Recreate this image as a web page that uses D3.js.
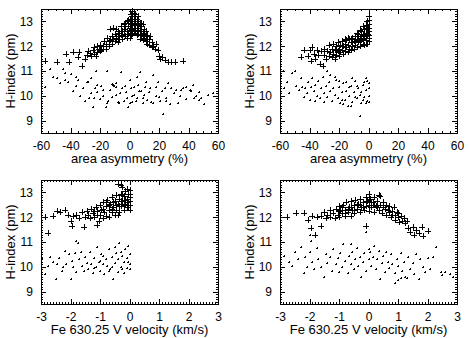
<!doctype html>
<meta charset=utf8>
<title>H-index vs asymmetry and velocity</title>
<style>
  body { margin: 0; background: white; }
  svg { display: block; font-family: "Liberation Sans", Helvetica, Arial, sans-serif; }
</style>
<svg width=471 height=338></svg>
<script src=https://d3js.org/d3.v7.min.js></script>
<script>
var hDomain = [8.5, 13.5];
var hTicks = [9, 10, 11, 12, 13];
var asymTicks = [-60, -40, -20, 0, 20, 40, 60];
var velTicks = [-3, -2, -1, 0, 1, 2, 3];

// panel 1: area asymmetry, "+" branch (upper) and dot branch (lower)
var asymUp1 = [[-57,11.4],[-49,11.38],[-43,11.7],[-41,11.35],[-38,11.75],[-34,11.75],[-35,11.55],[-32,11.2],[-30,11.5],
  [-28,11.8],[-29,11.65],[-27,11.72],[-26,11.6],[-25,11.85],[-24,11.95],[-23,11.6],[-22,11.75],[-21,11.9],[-20,12.05],
  [-19,11.85],[-18,12.0],[-17,12.2],[-16,11.9],[-16,12.1],[-15,12.35],[-14,12.0],[-13,12.25],[-13,12.7],[-12,12.1],
  [-11,12.3],[-11,12.75],[-10,12.5],[-10,12.2],[-9,12.7],[-9,12.35],[-8,12.4],[-8,12.15],[-7,12.55],[-7,12.3],[-6,12.8],
  [-6,12.45],[-5,12.6],[-5,12.3],[-4,12.9],[-4,12.5],[-3,12.7],[-3,12.4],[-2,13.0],[-2,12.6],[-1,12.8],[-1,12.5],[0,13.1],
  [0,12.75],[0,12.55],[1,13.3],[1,12.9],[1,12.65],[2,13.4],[2,13.0],[2,12.7],[3,13.2],[3,12.85],[3,12.55],[4,13.3],
  [4,12.95],[4,12.6],[5,13.1],[5,12.75],[5,12.45],[6,13.2],[6,12.85],[6,12.5],[7,12.95],[7,12.6],[7,12.3],[8,12.8],
  [8,12.45],[9,12.9],[9,12.55],[9,12.25],[10,12.7],[10,12.35],[11,12.6],[11,12.2],[12,12.45],[12,12.1],[13,12.3],
  [13,12.05],[14,12.4],[15,12.15],[15,11.95],[16,12.0],[17,11.9],[18,12.1],[19,11.85],[20,11.6],[21,11.5],[22,11.55],
  [24,11.45],[26,11.38],[28,11.35],[31,11.35],[36,11.4],
  [-4,12.7],[-3,12.95],[-2,12.35],[-1,13.05],[0,12.95],[0,12.35],[1,13.1],[1,12.45],[2,13.2],[2,12.5],[3,13.35],[3,13.0],
  [4,12.75],[4,13.1],[5,12.9],[5,12.6],[6,13.0],[6,12.65],[7,12.8],[7,12.45],[8,12.6],[8,12.95],[9,12.4],[10,12.5],
  [11,12.4],[12,12.3],[-8,12.6],[-6,12.6],[-12,12.4],[-14,12.2],[-18,11.9],[-20,11.8],[-22,12.0],[-24,11.7]];
var asymLo1 = [[-57,10.37],[-54,11.07],[-52,10.77],[-49,10.7],[-45,11.1],[-44,10.63],[-41.5,10.56],[-40,10.87],[-38.6,10.2],
  [-36.3,10.4],[-34.7,10.63],[-33.6,10.0],[-31.4,10.3],[-30.2,9.8],[-29,10.56],[-27.3,9.93],[-25.8,10.7],[-24.6,9.56],
  [-23.5,10.3],[-22.4,11.0],[-21.9,10.15],[-20,9.87],[-19,10.4],[-17.9,10.0],[-16,9.56],[-15.2,11.0],[-14.5,9.8],
  [-13.4,10.23],[-11.6,10.47],[-10.7,10.4],[-8.9,10.36],[-7.8,9.76],[-6.7,10.1],[-5.6,10.96],[-4,9.8],[-2.2,10.15],
  [-1.1,9.56],[0.5,10.63],[1.8,10.0],[3,10.36],[4.1,9.8],[5,10.77],[6.4,10.2],[7.3,10.96],[9.1,9.93],[10.2,10.36],
  [11.4,10.56],[13.2,10.15],[14.8,9.76],[15.9,10.83],[17.7,10.0],[19.3,10.56],[20.9,9.8],[22.7,9.26],[23.8,10.3],
  [24.9,9.93],[27.2,9.67],[28.4,10.3],[29.9,10.1],[31.7,10.23],[34,10.0],[36.2,10.3],[38.5,9.87],[40.7,10.23],[43,10.43],
  [45.3,10.0],[47.1,10.15],[48.7,9.93],[50.5,9.67],[56.6,10.1],[-26,10.1],[-24,9.9],[-22,10.45],[-18,10.25],[-15,9.7],
  [-12,9.95],[-11,10.45],[-9,10.5],[-9,10.05],[-7,9.7],[-5,10.3],[-3,10.4],[-2,9.9],[0,9.7],[1,10.3],[2,9.75],[3,10.05],
  [5,9.9],[6,10.45],[8,10.2],[9,9.7],[10,10.05],[12,9.85],[14,10.3],[16,9.7],[18,10.35],[20,9.95],[22,10.2],[25,9.8],
  [26,10.5],[33,9.7],[35,10.25],[38,10.35],[42,10.2],[44,9.9],[47,9.85],[53,10.05],[-47,10.5],[-44,10.9],[-36,10.75],
  [-28,10.55]];

// panel 2: area asymmetry, second sample
var asymUp2 = [[-46,11.55],[-44,11.85],[-41,11.6],[-40,11.85],[-39,11.42],[-38,11.95],[-37,11.7],[-36,11.5],[-35,11.85],
  [-34,11.65],[-33,11.3],[-32,11.8],[-31,11.2],[-30,11.65],[-30,11.9],[-29,11.5],[-28,11.8],[-27,11.6],[-27,12.05],
  [-26,11.75],[-25,11.55],[-25,11.9],[-24,12.1],[-24,11.7],[-23,11.5],[-23,11.85],[-22,12.0],[-22,11.65],[-21,11.8],
  [-21,12.15],[-20,11.9],[-20,11.6],[-19,12.05],[-19,11.75],[-18,12.2],[-18,11.85],[-17,12.0],[-17,11.7],[-16,12.1],
  [-16,11.8],[-15,12.25],[-15,11.95],[-14,12.05],[-14,11.75],[-13,12.3],[-13,11.9],[-12,12.15],[-12,11.85],[-11,12.35],
  [-11,12.0],[-10,12.2],[-10,11.9],[-9,12.4],[-9,12.05],[-8,12.25],[-8,11.95],[-7,12.5],[-7,12.15],[-6,12.35],[-6,12.0],
  [-5,12.6],[-5,12.25],[-4,12.45],[-4,12.1],[-3,12.7],[-3,12.35],[-3,12.05],[-2,12.55],[-2,12.25],[-2,12.85],[-1,12.7],
  [-1,12.4],[-1,12.1],[-1,13.0],[0,13.2],[0,12.9],[0,12.6],[0,12.35],[0,12.2],[-0.5,12.75],[-0.5,12.5],
  [-9,12.2],[-8,12.55],[-7,12.3],[-6,12.65],[-6,12.2],[-5,12.4],[-4,12.8],[-4,12.3],[-3,12.5],[-2,12.4],[-2,12.1],
  [-1,12.55],[-1,12.85],[0,12.45],[0,13.05],[0,12.75],[-12,12.3],[-14,12.35],[-16,12.3]];
var asymLo2 = [[-59,10.8],[-58,11.0],[-57,10.3],[-55,10.55],[-54,10.1],[-52,10.9],[-50,11.0],[-49,10.4],[-47,10.25],
  [-46,10.7],[-45,10.35],[-43,10.3],[-42,10.1],[-41,10.55],[-40,9.85],[-39,10.35],[-38,10.7],[-37,10.2],[-36,10.45],
  [-35,10.0],[-34,10.6],[-33,9.9],[-32,10.3],[-31,10.75],[-30,10.1],[-29,10.4],[-28,9.95],[-27,10.55],[-26,10.2],
  [-25,9.8],[-24,10.3],[-23,10.05],[-22,10.65],[-21,9.9],[-20,10.35],[-19,9.7],[-18,10.15],[-17,10.5],[-16,9.85],
  [-15,10.2],[-14,9.6],[-13,10.0],[-12,10.4],[-11,9.75],[-10,10.15],[-9,10.6],[-8,9.9],[-7,10.3],[-6,9.2],[-6,10.05],
  [-5,9.7],[-4,10.45],[-3,9.95],[-2,10.25],[-1,9.8],[-1,10.6],[0,10.0],[0,10.3],[0,9.75],[0,10.5],[-28,11.0],[-26,10.85],
  [-23,10.75],[-20,10.6],[-18,9.85],[-15,10.55],[-13,10.35],[-11,10.7],[-9,9.95],[-8,10.4],[-5,10.15],[-4,9.85],
  [-3,10.55],[-2,9.7],[-2,10.7],[-44,9.95],[-36,9.8],[-30,9.75],[-17,9.65],[-12,9.6]];

// panel 3: V velocity, first sample
var velUp3 = [[-2.85,12.0],[-2.77,11.37],[-2.6,12.05],[-2.45,12.25],[-2.35,12.2],[-2.2,12.3],[-2.1,12.1],[-2.0,11.85],
  [-1.95,11.65],[-1.9,12.05],[-1.8,12.1],[-1.7,11.95],[-1.6,12.2],[-1.55,11.6],[-1.5,12.0],[-1.45,12.25],[-1.4,12.1],
  [-1.35,11.95],[-1.3,12.35],[-1.25,12.15],[-1.2,12.0],[-1.15,12.4],[-1.1,11.7],[-1.1,12.25],[-1.05,11.85],[-1.0,12.5],
  [-1.0,12.1],[-0.95,12.3],[-0.9,11.95],[-0.9,12.6],[-0.85,12.2],[-0.8,12.45],[-0.8,12.05],[-0.75,12.7],[-0.7,12.3],
  [-0.7,12.0],[-0.65,12.55],[-0.6,12.2],[-0.6,12.8],[-0.55,12.4],[-0.5,12.65],[-0.5,12.1],[-0.45,12.9],[-0.45,12.3],
  [-0.4,13.35],[-0.4,12.55],[-0.35,12.75],[-0.35,12.2],[-0.3,12.95],[-0.3,12.45],[-0.25,13.2],[-0.25,12.65],[-0.2,12.3],
  [-0.2,12.85],[-0.15,13.05],[-0.15,12.55],[-0.1,12.75],[-0.1,12.4],[-0.1,13.15],[-0.05,12.95],[-0.05,12.6],[0,12.8],
  [0,12.5],[0,13.1],[0,12.3],[-0.3,13.3],
  [-0.9,12.35],[-0.8,12.6],[-0.7,12.5],[-0.6,12.35],[-0.55,12.6],[-0.45,12.5],[-0.4,12.1],[-0.35,12.45],[-0.3,12.65],
  [-0.25,12.9],[-0.2,12.5],[-0.15,12.7],[-0.1,12.6],[-0.05,12.4],[0,12.65],[0,12.95],[-1.1,12.1],[-1.2,12.25]];
var velLo3 = [[-2.95,10.3],[-2.85,9.7],[-2.75,10.05],[-2.7,10.4],[-2.6,10.2],[-2.5,9.5],[-2.45,10.1],[-2.4,10.35],
  [-2.3,9.85],[-2.2,10.65],[-2.15,10.1],[-2.05,10.5],[-2.0,9.5],[-1.95,10.25],[-1.9,10.0],[-1.85,10.55],[-1.8,9.8],
  [-1.75,10.95],[-1.7,10.3],[-1.6,10.05],[-1.55,9.85],[-1.5,10.4],[-1.45,10.15],[-1.4,9.9],[-1.35,10.6],[-1.3,10.1],
  [-1.25,9.75],[-1.2,10.35],[-1.15,10.0],[-1.1,10.8],[-1.05,10.2],[-1.0,9.85],[-0.95,10.5],[-0.9,10.1],[-0.85,9.7],
  [-0.8,10.3],[-0.75,10.05],[-0.7,10.7],[-0.65,9.9],[-0.6,10.4],[-0.55,9.5],[-0.5,10.15],[-0.45,10.55],[-0.4,9.8],
  [-0.4,10.3],[-0.35,10.95],[-0.3,10.0],[-0.25,10.45],[-0.2,9.75],[-0.2,10.2],[-0.15,10.7],[-0.1,9.95],[-0.1,10.35],
  [-0.05,10.85],[0,10.1],[0,10.5],[0,9.9],[-1.8,11.05],[-2.25,10.0],[-1.65,10.6],[-1.2,9.95],[-0.9,10.45],[-0.6,10.0],
  [-0.5,10.8],[-0.3,10.6],[-0.25,9.9],[-0.05,10.2],[-0.7,9.85],[-1.0,10.25]];

// panel 4: V velocity, second sample
var velUp4 = [[-2.75,12.0],[-2.45,12.15],[-2.2,12.15],[-2.05,11.9],[-1.95,11.55],[-1.9,12.05],[-1.8,11.3],[-1.75,12.0],
  [-1.6,11.65],[-1.6,12.05],[-1.5,12.2],[-1.45,11.95],[-1.4,12.1],[-1.3,12.3],[-1.3,12.0],[-1.2,12.15],[-1.15,11.95],
  [-1.1,12.35],[-1.05,12.1],[-1.0,12.45],[-1.0,12.0],[-0.95,12.25],[-0.9,12.15],[-0.85,12.5],[-0.8,12.05],[-0.8,12.3],
  [-0.75,12.6],[-0.7,12.2],[-0.65,12.4],[-0.6,12.05],[-0.6,12.65],[-0.55,12.3],[-0.5,12.5],[-0.5,12.15],[-0.45,12.7],
  [-0.4,12.35],[-0.35,12.55],[-0.3,12.2],[-0.3,12.75],[-0.25,12.4],[-0.2,12.6],[-0.15,12.3],[-0.1,12.8],[-0.1,12.45],
  [-0.05,12.65],[0,12.95],[0,12.5],[0,12.25],[0.05,12.75],[0.1,12.4],[0.15,12.6],[0.2,12.2],[0.2,12.8],[0.25,12.45],
  [0.3,12.65],[0.35,12.3],[0.4,12.85],[0.4,12.5],[0.45,12.15],[0.5,12.6],[0.55,12.35],[0.6,12.5],[0.6,12.1],[0.65,12.3],
  [0.7,12.45],[0.75,12.0],[0.8,12.25],[0.85,12.4],[0.9,12.1],[0.9,11.9],[0.95,12.2],[1.0,12.0],[1.05,11.8],[1.1,12.05],
  [1.15,11.85],[1.2,11.95],[1.25,11.75],[1.3,11.85],[1.35,11.55],[1.4,11.4],[1.5,11.6],[1.55,11.3],[1.6,11.5],
  [1.7,11.35],[1.8,11.6],[1.85,11.25],[2.0,11.45],[-0.1,11.65],[0.35,12.9],
  [-1.0,12.3],[-0.9,12.4],[-0.8,12.15],[-0.7,12.35],[-0.6,12.4],[-0.5,12.3],[-0.4,12.5],[-0.3,12.5],[-0.2,12.4],
  [-0.1,12.6],[0,12.7],[0.1,12.6],[0.2,12.5],[0.3,12.4],[0.5,12.4],[0.7,12.2],[0.8,12.1],[1.0,12.15]];
var velLo4 = [[-2.85,10.45],[-2.7,10.2],[-2.6,10.05],[-2.5,10.6],[-2.4,10.3],[-2.3,10.8],[-2.2,9.75],[-2.15,10.4],
  [-2.1,10.0],[-2.0,10.6],[-1.9,10.2],[-1.85,9.9],[-1.75,10.75],[-1.7,10.3],[-1.6,10.0],[-1.5,9.6],[-1.45,10.5],
  [-1.4,10.15],[-1.3,10.4],[-1.25,9.85],[-1.2,10.7],[-1.1,10.1],[-1.05,10.35],[-1.0,9.8],[-0.95,10.55],[-0.9,10.0],
  [-0.85,10.9],[-0.8,10.25],[-0.7,9.75],[-0.65,10.45],[-0.6,10.1],[-0.55,10.6],[-0.5,9.9],[-0.45,10.3],[-0.4,10.75],
  [-0.35,10.05],[-0.3,10.4],[-0.25,9.6],[-0.2,10.2],[-0.15,10.55],[-0.1,9.85],[0,10.3],[0.05,10.6],[0.1,10.05],
  [0.15,10.4],[0.2,10.85],[0.25,9.9],[0.3,10.3],[0.35,10.65],[0.4,9.5],[0.45,10.15],[0.5,10.45],[0.55,9.8],[0.6,10.6],
  [0.65,10.2],[0.7,9.95],[0.75,10.5],[0.8,10.1],[0.9,9.75],[0.95,10.3],[1.0,10.05],[1.1,10.55],[1.15,9.85],[1.2,10.2],
  [1.3,9.55],[1.35,10.4],[1.4,9.9],[1.5,10.15],[1.55,9.7],[1.6,10.5],[1.7,9.5],[1.75,10.3],[1.85,10.0],[1.9,9.8],
  [2.0,10.35],[2.1,9.9],[2.2,10.4],[2.3,10.8],[2.45,9.8],[2.5,9.65],[2.6,9.8],[2.75,9.7],[2.85,9.6],[-0.1,11.4],
  [-2.0,11.3],[0.9,9.35],[1.0,9.45],[1.1,9.55],[1.25,9.6],[-1.95,11.05],[-0.6,10.9],[0.0,10.7]];

var W = 177, H = 124;
var panels = [
  {left: 41, top: 9, dom: [-60, 60], ticks: asymTicks, minor: 5, title: 'area asymmetry (%)', up: asymUp1, lo: asymLo1},
  {left: 280, top: 9, dom: [-60, 60], ticks: asymTicks, minor: 5, title: 'area asymmetry (%)', up: asymUp2, lo: asymLo2},
  {left: 41, top: 180, dom: [-3, 3], ticks: velTicks, minor: 0.1, title: 'Fe 630.25 V velocity (km/s)', up: velUp3, lo: velLo3},
  {left: 280, top: 180, dom: [-3, 3], ticks: velTicks, minor: 0.1, title: 'Fe 630.25 V velocity (km/s)', up: velUp4, lo: velLo4}
];

var svg = d3.select('svg');

function steps(d0, d1, step) {
  var n = Math.round((d1 - d0) / step);
  return d3.range(n + 1).map(function(i) { return +(d0 + i * step).toFixed(4); });
}

panels.forEach(function(p) {
  var x = d3.scaleLinear().domain(p.dom).range([p.left, p.left + W]);
  var y = d3.scaleLinear().domain(hDomain).range([p.top + H, p.top]);
  var g = svg.append('g');
  var xMinor = steps(p.dom[0], p.dom[1], p.minor);
  var yMinor = steps(hDomain[0], hDomain[1], 0.1);

  function style(sel) {
    sel.select('.domain').remove();
    sel.attr('font-family', null).attr('font-size', 12);
    sel.selectAll('line').attr('stroke', '#000').attr('shape-rendering', 'crispEdges');
    sel.selectAll('text').attr('fill', '#000');
  }

  // minor ticks on all four sides, pointing in
  g.append('g').attr('transform', 'translate(0,' + (p.top + H) + ')')
    .call(d3.axisBottom(x).tickValues(xMinor).tickSize(-2).tickFormat('')).call(style);
  g.append('g').attr('transform', 'translate(0,' + p.top + ')')
    .call(d3.axisTop(x).tickValues(xMinor).tickSize(-2).tickFormat('')).call(style);
  g.append('g').attr('transform', 'translate(' + p.left + ',0)')
    .call(d3.axisLeft(y).tickValues(yMinor).tickSize(-2).tickFormat('')).call(style);
  g.append('g').attr('transform', 'translate(' + (p.left + W) + ',0)')
    .call(d3.axisRight(y).tickValues(yMinor).tickSize(-2).tickFormat('')).call(style);

  // major ticks + labels
  g.append('g').attr('transform', 'translate(0,' + (p.top + H) + ')')
    .call(d3.axisBottom(x).tickValues(p.ticks).tickSizeInner(-5).tickSizeOuter(0).tickPadding(8).tickFormat(String))
    .call(style);
  g.append('g').attr('transform', 'translate(0,' + p.top + ')')
    .call(d3.axisTop(x).tickValues(p.ticks).tickSize(-5).tickFormat('')).call(style);
  g.append('g').attr('transform', 'translate(' + p.left + ',0)')
    .call(d3.axisLeft(y).tickValues(hTicks).tickSizeInner(-5).tickSizeOuter(0).tickPadding(8).tickFormat(String))
    .call(style);
  g.append('g').attr('transform', 'translate(' + (p.left + W) + ',0)')
    .call(d3.axisRight(y).tickValues(hTicks).tickSize(-5).tickFormat('')).call(style);

  g.append('rect')
    .attr('x', p.left + 0.5).attr('y', p.top + 0.5)
    .attr('width', W).attr('height', H)
    .attr('fill', 'none').attr('stroke', '#000').attr('shape-rendering', 'crispEdges');

  g.append('text')
    .attr('x', p.left + W / 2).attr('y', p.top + H + 30)
    .attr('text-anchor', 'middle').attr('font-size', 13)
    .text(p.title);
  g.append('text')
    .attr('transform', 'translate(' + (p.left - 26) + ',' + (p.top + H / 2) + ') rotate(-90)')
    .attr('text-anchor', 'middle').attr('font-size', 13)
    .text('H-index (pm)');

  function plus(arm) {
    return function(d) {
      var cx = Math.round(x(d[0])), cy = Math.round(y(d[1]));
      return 'M' + (cx - arm) + ',' + (cy + 0.5) + 'H' + (cx + arm) +
        'M' + (cx + 0.5) + ',' + (cy - arm) + 'V' + (cy + arm);
    };
  }

  g.append('g').selectAll('path')
    .data(p.lo).enter().append('path')
    .attr('d', plus(1))
    .attr('stroke', '#000').attr('stroke-width', 1).attr('fill', 'none');

  g.append('g').selectAll('path')
    .data(p.up).enter().append('path')
    .attr('d', plus(3))
    .attr('stroke', '#000').attr('stroke-width', 1).attr('fill', 'none');
});
</script>
